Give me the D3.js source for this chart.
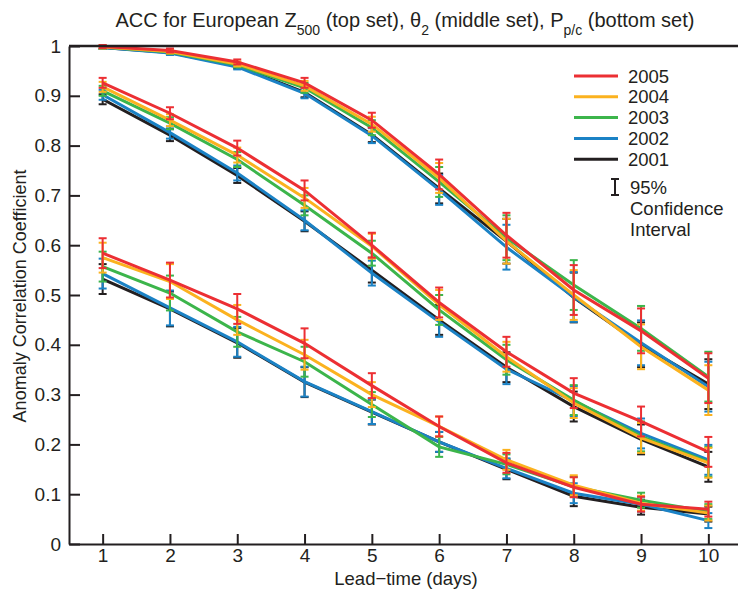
<!DOCTYPE html>
<html>
<head>
<meta charset="utf-8">
<script src="https://cdn.jsdelivr.net/npm/d3@7"></script>
<style>
  body { margin: 0; background: #fff; }
  svg text { font-family: "Liberation Sans", Arial, sans-serif; fill: #231f20; }
</style>
</head>
<body>
<div id="chart"></div>
<script>
const svgWidth = 738;
const svgHeight = 591;
const margin = { top: 46, left: 69, right: 0, bottom: 47 };
const height = svgHeight - margin.top - margin.bottom;

// lead-time in days
const days = [1, 2, 3, 4, 5, 6, 7, 8, 9, 10];
const years = ['2001', '2002', '2003', '2004', '2005'];

const color = {
    '2005': '#ec2f33',
    '2004': '#fbb21f',
    '2003': '#3cb54b',
    '2002': '#1b82c5',
    '2001': '#231f20'
};

// Z500 (top set)
const z500 = {
    '2005': [0.999, 0.991, 0.968, 0.926, 0.851, 0.742, 0.620, 0.510, 0.428, 0.333],
    '2004': [0.998, 0.989, 0.964, 0.920, 0.843, 0.735, 0.608, 0.500, 0.396, 0.309],
    '2003': [0.998, 0.988, 0.962, 0.916, 0.836, 0.727, 0.615, 0.520, 0.433, 0.336],
    '2002': [0.997, 0.986, 0.958, 0.905, 0.820, 0.711, 0.596, 0.496, 0.404, 0.316],
    '2001': [0.997, 0.987, 0.960, 0.907, 0.822, 0.714, 0.608, 0.495, 0.400, 0.321]
};
const z500Err = [0.003, 0.004, 0.005, 0.01, 0.015, 0.03, 0.045, 0.05, 0.045, 0.05];

// theta2 (middle set)
const theta2 = {
    '2005': [0.926, 0.865, 0.795, 0.710, 0.600, 0.485, 0.386, 0.303, 0.246, 0.185],
    '2004': [0.918, 0.851, 0.781, 0.695, 0.598, 0.480, 0.376, 0.283, 0.213, 0.163],
    '2003': [0.910, 0.845, 0.772, 0.680, 0.584, 0.470, 0.370, 0.289, 0.216, 0.165],
    '2002': [0.902, 0.826, 0.745, 0.650, 0.544, 0.446, 0.351, 0.287, 0.222, 0.169],
    '2001': [0.893, 0.821, 0.740, 0.648, 0.550, 0.450, 0.355, 0.276, 0.210, 0.155]
};
const theta2Err = [0.01, 0.012, 0.015, 0.02, 0.025, 0.03, 0.03, 0.03, 0.03, 0.03];

// Pp/c (bottom set)
const ppc = {
    '2005': [0.584, 0.530, 0.472, 0.403, 0.318, 0.236, 0.163, 0.114, 0.080, 0.070],
    '2004': [0.575, 0.527, 0.450, 0.380, 0.300, 0.236, 0.169, 0.118, 0.082, 0.062],
    '2003': [0.557, 0.504, 0.426, 0.366, 0.280, 0.195, 0.160, 0.115, 0.088, 0.065],
    '2002': [0.543, 0.474, 0.406, 0.326, 0.266, 0.205, 0.152, 0.102, 0.080, 0.047],
    '2001': [0.532, 0.472, 0.404, 0.325, 0.265, 0.205, 0.150, 0.096, 0.074, 0.060]
};
const ppcErr = [0.03, 0.035, 0.03, 0.03, 0.025, 0.02, 0.02, 0.02, 0.015, 0.015];

const sets = [
    { values: z500, err: z500Err },
    { values: theta2, err: theta2Err },
    { values: ppc, err: ppcErr }
];

const svg = d3.select('#chart')
    .append('svg')
    .attr('width', svgWidth)
    .attr('height', svgHeight);

const g = svg.append('g')
    .attr('transform', `translate(${margin.left}, ${margin.top})`);

const x = d3.scaleLinear()
    .domain([0.5, 10.5])
    .range([0, 673]);

const y = d3.scaleLinear()
    .domain([0, 1])
    .range([height, 0]);

// axes, ticks pointing inward
const xAxis = d3.axisBottom(x).tickValues(days).tickSizeInner(-10).tickSizeOuter(0).tickPadding(5);
const yAxis = d3.axisLeft(y).tickValues(d3.range(0, 1.01, 0.1)).tickSizeInner(-11).tickSizeOuter(0).tickPadding(8)
    .tickFormat(d => d === 0 ? '0' : d === 1 ? '1' : d3.format('.1f')(d));

const line = d3.line()
    .x((d, i) => x(days[i]))
    .y(d => y(d));

// draw each set, black first, red on top
sets.forEach(set => {
    years.forEach(yr => {
        const vals = set.values[yr];
        const col = color[yr];
        g.append('path')
            .datum(vals)
            .attr('fill', 'none')
            .attr('stroke', col)
            .attr('stroke-width', 3)
            .attr('d', line);

        const bars = g.append('g').selectAll('g')
            .data(vals).enter()
            .append('g')
            .attr('stroke', col)
            .attr('stroke-width', 2);

        bars.append('line')
            .attr('x1', (d, i) => x(days[i]))
            .attr('x2', (d, i) => x(days[i]))
            .attr('y1', (d, i) => y(d - set.err[i]))
            .attr('y2', (d, i) => y(d + set.err[i]));
        bars.append('line')
            .attr('x1', (d, i) => x(days[i]) - 4)
            .attr('x2', (d, i) => x(days[i]) + 4)
            .attr('y1', (d, i) => y(d - set.err[i]))
            .attr('y2', (d, i) => y(d - set.err[i]));
        bars.append('line')
            .attr('x1', (d, i) => x(days[i]) - 4)
            .attr('x2', (d, i) => x(days[i]) + 4)
            .attr('y1', (d, i) => y(d + set.err[i]))
            .attr('y2', (d, i) => y(d + set.err[i]));
    });
});

const xg = g.append('g')
    .attr('transform', `translate(0, ${height})`)
    .call(xAxis);
const yg = g.append('g').call(yAxis);

[xg, yg].forEach(a => {
    a.select('.domain').attr('stroke', '#231f20').attr('stroke-width', 2);
    a.selectAll('.tick line').attr('stroke', '#231f20').attr('stroke-width', 2);
    a.selectAll('.tick text').style('font-size', '19px').attr('fill', '#231f20');
});

// top border line
g.append('line')
    .attr('x1', 0).attr('x2', 680)
    .attr('y1', 0).attr('y2', 0)
    .attr('stroke', '#231f20')
    .attr('stroke-width', 2.5);

// title
const title = svg.append('text')
    .attr('x', 405)
    .attr('y', 27)
    .attr('text-anchor', 'middle')
    .style('font-size', '20px');
title.append('tspan').text('ACC for European Z');
title.append('tspan').attr('baseline-shift', 'sub').style('font-size', '14px').text('500');
title.append('tspan').text(' (top set), θ');
title.append('tspan').attr('baseline-shift', 'sub').style('font-size', '14px').text('2');
title.append('tspan').text(' (middle set), P');
title.append('tspan').attr('baseline-shift', 'sub').style('font-size', '14px').text('p/c');
title.append('tspan').text(' (bottom set)');

// axis labels
svg.append('text')
    .attr('x', 406)
    .attr('y', 585)
    .attr('text-anchor', 'middle')
    .style('font-size', '18.5px')
    .text('Lead\u2212time (days)');

svg.append('text')
    .attr('transform', 'translate(26, 296) rotate(-90)')
    .attr('text-anchor', 'middle')
    .style('font-size', '18px')
    .text('Anomaly Correlation Coefficient');

// legend
const legend = svg.append('g').attr('class', 'legend');
const legendYears = years.slice().reverse();
legendYears.forEach((yr, i) => {
    const ly = 76 + i * 20.8;
    legend.append('line')
        .attr('x1', 574).attr('x2', 618)
        .attr('y1', ly).attr('y2', ly)
        .attr('stroke', color[yr])
        .attr('stroke-width', 3);
    legend.append('text')
        .attr('x', 628)
        .attr('y', ly + 6.5)
        .style('font-size', '18.5px')
        .text(yr);
});

// confidence interval key
const ci = legend.append('g').attr('stroke', '#231f20').attr('stroke-width', 2);
ci.append('line').attr('x1', 615).attr('x2', 615).attr('y1', 179).attr('y2', 195);
ci.append('line').attr('x1', 611).attr('x2', 619).attr('y1', 179).attr('y2', 179);
ci.append('line').attr('x1', 611).attr('x2', 619).attr('y1', 195).attr('y2', 195);
['95%', 'Confidence', 'Interval'].forEach((t, i) => {
    legend.append('text')
        .attr('x', 630)
        .attr('y', 194 + i * 21)
        .style('font-size', '18.5px')
        .text(t);
});
</script>
</body>
</html>
